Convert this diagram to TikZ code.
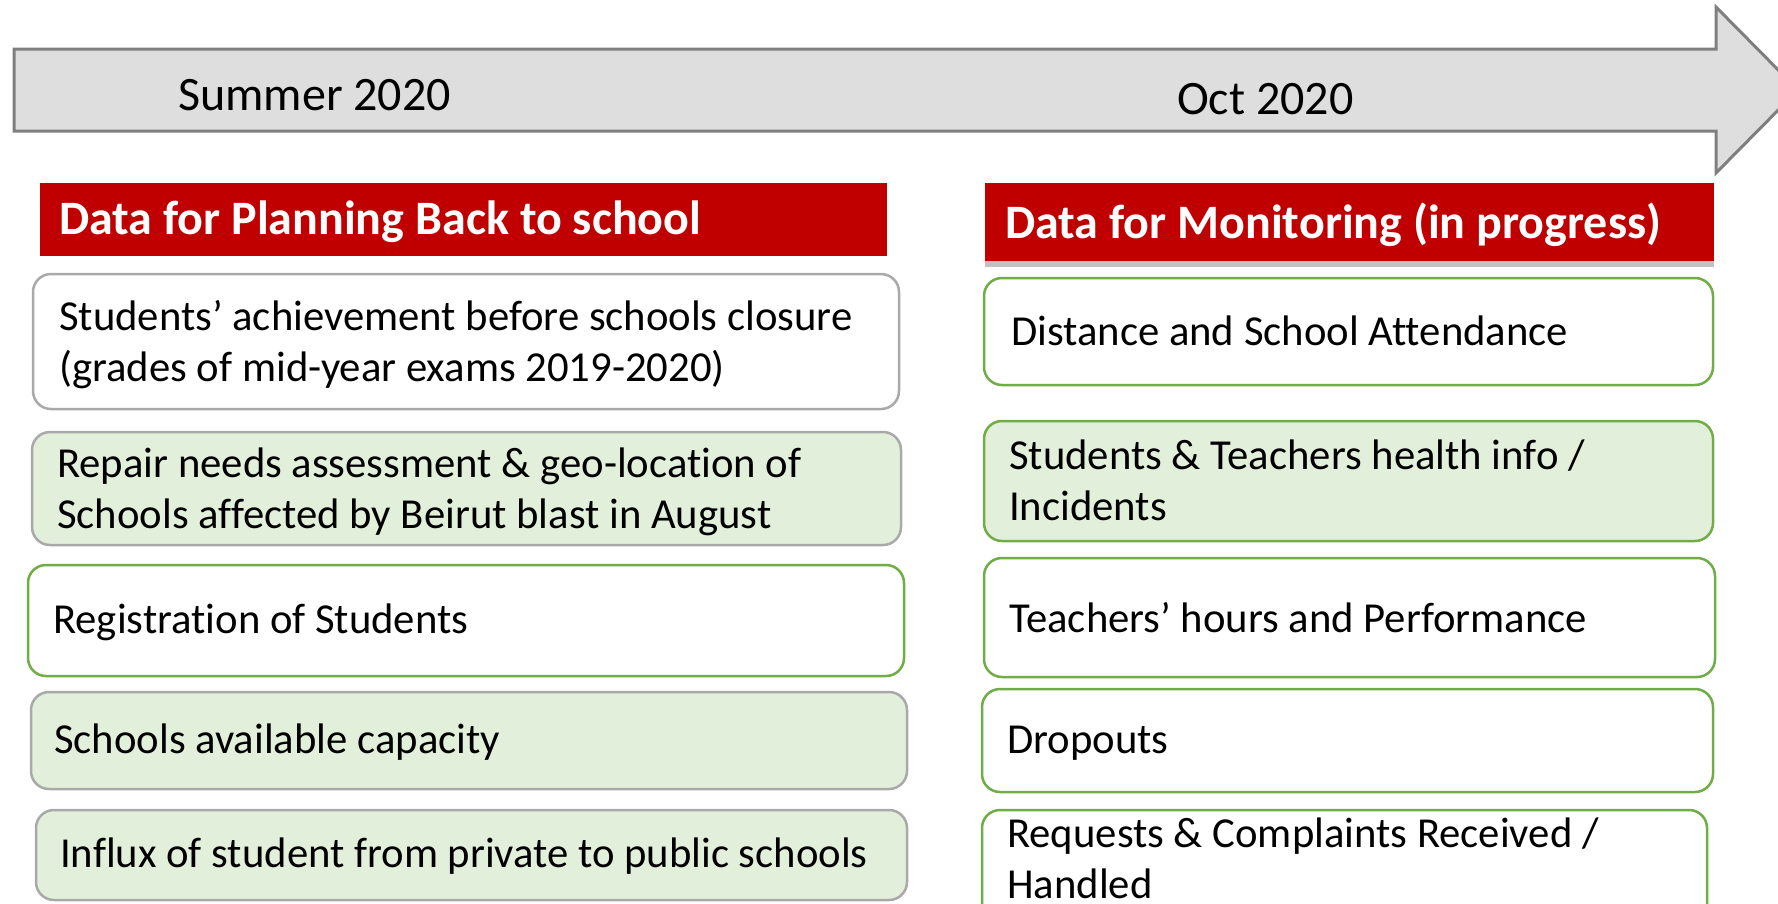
\documentclass[tikz,border=0pt]{standalone}
\usepackage{fontspec}
\setmainfont{Carlito}[Ligatures={NoCommon,NoRare,NoContextual}]
\usetikzlibrary{shadows}
\definecolor{hdred}{HTML}{C00000}
\definecolor{lgreen}{HTML}{E2EFDA}
\definecolor{dgreen}{HTML}{70AD47}
\definecolor{boxgray}{HTML}{A9A9A9}
\definecolor{arrfill}{HTML}{DEDEDE}
\definecolor{arrline}{HTML}{7F7F7F}
\begin{document}
\begin{tikzpicture}[x=1pt,y=-1pt,
  box/.style={rectangle, rounded corners=18pt, line width=2.5pt, inner sep=0pt, outer sep=0pt},
  graybox/.style={box, draw=boxgray, fill=white},
  graygreen/.style={box, draw=boxgray, fill=lgreen},
  greenbox/.style={box, draw=dgreen, fill=white},
  greengreen/.style={box, draw=dgreen, fill=lgreen},
  header/.style={rectangle, fill=hdred, inner sep=0pt, outer sep=0pt},
  hdtext/.style={anchor=base west, inner sep=0pt, text=white, font=\fontsize{48}{58}\selectfont\bfseries},
  txt/.style={anchor=base west, inner sep=0pt, align=left, font=\fontsize{42.7}{51}\selectfont},
  ttxt/.style={anchor=base west, inner sep=0pt, font=\fontsize{48}{58}\selectfont}]
\useasboundingbox (0,0) rectangle (1778,903);
\clip (0,0) rectangle (1778,903);
% timeline arrow
\draw[line width=3pt, draw=arrline, fill=arrfill, line join=miter]
  (14,49) -- (1716,49) -- (1716,7) -- (1798,90) -- (1716,173) -- (1716,131) -- (14,131) -- cycle;
\node[ttxt] (summer) at (178,110) {Summer 2020};
\node[ttxt] (oct) at (1177,114) {Oct 2020};
% headers
\node[header, minimum width=847, minimum height=73] (hl) at (463.5,219.5) {};
\node[hdtext] (hlt) at (59,234) {Data for Planning Back to school};
\node[header, minimum width=729, minimum height=78,
  drop shadow={shadow xshift=0pt, shadow yshift=-6pt, opacity=0.35, fill=black!70}] (hr) at (1349.5,222) {};
\node[hdtext] (hrt) at (1005,238) {Data for Monitoring (in progress)};
% left boxes
\node[graybox, minimum width=866, minimum height=135] (l1) at (466,341.5) {};
\node[txt] (l1t) at (59,381) {Students’ achievement before schools closure\\(grades of mid-year exams 2019-2020)};
\node[graygreen, minimum width=869, minimum height=113] (l2) at (466.5,488.5) {};
\node[txt] (l2t) at (57,528) {Repair needs assessment \& geo-location of\\Schools affected by Beirut blast in August};
\node[greenbox, minimum width=876, minimum height=111] (l3) at (466,620.5) {};
\node[txt] (l3t) at (53,633) {Registration of Students};
\node[graygreen, minimum width=876, minimum height=97] (l4) at (469,740.5) {};
\node[txt] (l4t) at (54,753) {Schools available capacity};
\node[graygreen, minimum width=871, minimum height=90] (l5) at (471.5,855) {};
\node[txt] (l5t) at (60,867) {Influx of student from private to public schools};
% right boxes
\node[greenbox, minimum width=729, minimum height=107] (r1) at (1348.5,331.5) {};
\node[txt] (r1t) at (1011,345) {Distance and School Attendance};
\node[greengreen, minimum width=729, minimum height=120] (r2) at (1348.5,481) {};
\node[txt] (r2t) at (1009,520) {Students \& Teachers health info /\\Incidents};
\node[greenbox, minimum width=731, minimum height=119] (r3) at (1349.5,617.5) {};
\node[txt] (r3t) at (1009,632) {Teachers’ hours and Performance};
\node[greenbox, minimum width=731, minimum height=103] (r4) at (1347.5,740.5) {};
\node[txt] (r4t) at (1007,753) {Dropouts};
\node[greenbox, minimum width=725, minimum height=125] (r5) at (1344.5,872.5) {};
\node[txt] (r5t) at (1007,898) {Requests \& Complaints Received /\\Handled};
\end{tikzpicture}
\end{document}
